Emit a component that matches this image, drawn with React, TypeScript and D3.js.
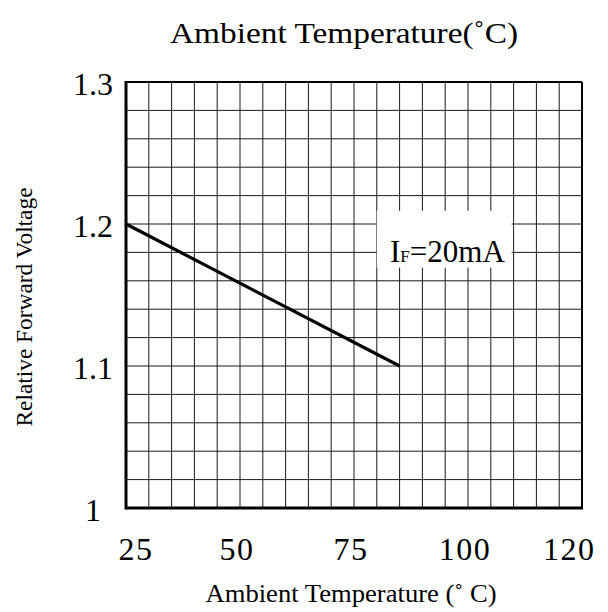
import * as d3 from "d3";

// curve: relative forward voltage vs ambient temperature, IF = 20mA
const temps = [25, 85];
const relVoltage = [1.2, 1.1];

const xTicks = [25, 50, 75, 100, 120];
const yTicks = [1, 1.1, 1.2, 1.3];

const width = 608;
const height = 612;
const marginTop = 82;
const marginRight = 26;
const marginBottom = 104;
const marginLeft = 126;

const serif = "'Liberation Serif', 'DejaVu Serif', serif";

export default function App() {
  const x = d3
    .scaleLinear()
    .domain([25, 125])
    .range([marginLeft, width - marginRight]);

  const y = d3
    .scaleLinear()
    .domain([1, 1.3])
    .range([height - marginBottom, marginTop]);

  const line = d3
    .line<number>()
    .x((d) => x(d))
    .y((_, i) => y(relVoltage[i]));

  // grid every 5 degrees and every 0.02
  const xGrid = d3.range(25, 125.001, 5);
  const yGrid = d3.range(0, 16).map((i) => 1 + i * 0.02);

  const [x0, x1] = x.range();
  const [y0, y1] = y.range();

  // outer tick labels sit a little off their grid line in the original
  const labelShift = (i: number) =>
    i === 0 ? 10 : i === xTicks.length - 1 ? 10 : -3;

  return (
    <svg
      width={width}
      height={height}
      style={{ position: "absolute", left: 0, top: 0, background: "#fff" }}
    >
      <text
        x={344}
        y={43}
        textAnchor="middle"
        fontFamily={serif}
        fontSize={30}
        textLength={348}
        lengthAdjust="spacingAndGlyphs"
      >
        Ambient Temperature(˚C)
      </text>

      <g stroke="#1a1a1a" strokeWidth={1}>
        {xGrid.map((v) => (
          <line key={"gx" + v} x1={x(v)} x2={x(v)} y1={y1} y2={y0} />
        ))}
        {yGrid.map((v) => (
          <line key={"gy" + v} x1={x0} x2={x1} y1={y(v)} y2={y(v)} />
        ))}
      </g>

      {/* legend box covers the grid */}
      <rect
        x={x(80)}
        y={y(1.21) + 1}
        width={x(110) - x(80) - 2}
        height={y(1.17) - y(1.21)}
        fill="#fff"
      />
      <text x={390} y={262} fontFamily={serif} fontSize={31}>
        I<tspan fontSize={17}>F</tspan>=20mA
      </text>

      <path
        d={line(temps) || ""}
        fill="none"
        stroke="#000"
        strokeWidth={3.2}
      />

      {/* frame */}
      <line x1={x0} x2={x1} y1={y1} y2={y1} stroke="#000" strokeWidth={2} />
      <line x1={x1} x2={x1} y1={y1} y2={y0} stroke="#000" strokeWidth={2} />
      <line x1={x0} x2={x0} y1={y1 - 1} y2={y0 + 1.5} stroke="#000" strokeWidth={3} />
      <line x1={x0} x2={x1 + 1} y1={y0} y2={y0} stroke="#000" strokeWidth={3} />

      {yTicks.map((v) => (
        <text
          key={"yt" + v}
          x={93}
          y={y(v) + 12.5}
          textAnchor="middle"
          fontFamily={serif}
          fontSize={32}
        >
          {String(v)}
        </text>
      ))}

      {xTicks.map((v, i) => (
        <text
          key={"xt" + v}
          x={x(v) + labelShift(i)}
          y={560}
          textAnchor="middle"
          fontFamily={serif}
          fontSize={32}
          letterSpacing={1.5}
        >
          {String(v)}
        </text>
      ))}

      <text
        x={351}
        y={602}
        textAnchor="middle"
        fontFamily={serif}
        fontSize={26}
        textLength={291}
        lengthAdjust="spacingAndGlyphs"
      >
        Ambient Temperature (˚ C)
      </text>

      <text
        transform={`translate(32,${(y0 + y1) / 2 + 12}) rotate(-90)`}
        textAnchor="middle"
        fontFamily={serif}
        fontSize={24}
        textLength={239}
        lengthAdjust="spacingAndGlyphs"
      >
        Relative Forward Voltage
      </text>
    </svg>
  );
}
